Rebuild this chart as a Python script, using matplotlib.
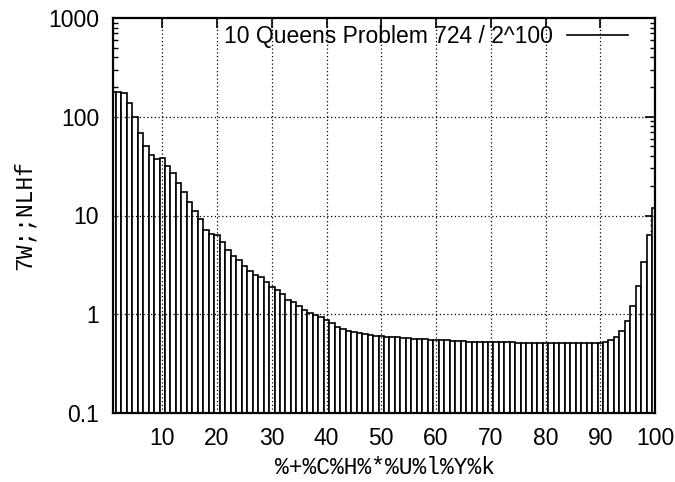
import matplotlib
matplotlib.use("Agg")
import matplotlib.pyplot as plt
from matplotlib.ticker import FixedLocator, LogLocator, NullFormatter
import numpy as np

# ---- data ----
positions = list(range(1, 101))
counts = [
    180, 180, 175, 137, 99, 69, 51, 41, 37, 38,
    32, 27, 21.5, 17.4, 13.8, 11.1, 9.2, 7.1, 6.5, 6.35,
    5.4, 4.5, 3.92, 3.54, 3.10, 2.76, 2.50, 2.37, 2.14, 1.87,
    1.76, 1.60, 1.41, 1.33, 1.21, 1.10, 1.02, 0.98, 0.93, 0.875,
    0.81, 0.75, 0.71, 0.68, 0.665, 0.65, 0.63, 0.616, 0.60, 0.60,
    0.593, 0.585, 0.585, 0.575, 0.571, 0.568, 0.56, 0.558, 0.555, 0.55,
    0.55, 0.548, 0.535, 0.53, 0.53, 0.528, 0.528, 0.525, 0.525, 0.52,
    0.52, 0.518, 0.518, 0.518, 0.517, 0.517, 0.516, 0.516, 0.516, 0.516,
    0.516, 0.516, 0.515, 0.51, 0.508, 0.508, 0.508, 0.508, 0.508, 0.508,
    0.528, 0.543, 0.593, 0.676, 0.86, 1.21, 1.93, 3.40, 6.35, 11.8,
]
xticks = [10, 20, 30, 40, 50, 60, 70, 80, 90, 100]
xtick_labels = ["10", "20", "30", "40", "50", "60", "70", "80", "90", "100"]
yticks = [0.1, 1, 10, 100, 1000]
ytick_labels = ["0.1", "1", "10", "100", "1000"]
legend_label = "10 Queens Problem 724 / 2^100"
xlabel = "%+%C%H%*%U%l%Y%k"
ylabel = "7W;;NLHf"

# ---- figure ----
fig = plt.figure(figsize=(6.75, 4.82), dpi=100)
ax = fig.add_axes([113 / 675, 1 - 413 / 482, (655 - 113) / 675, (413 - 18) / 482])
ax.set_yscale("log")

ax.bar(positions, counts, width=1.0, color="white", edgecolor="black",
       linewidth=1.2, zorder=2)

ax.set_xlim(1, 100)
ax.set_ylim(0.1, 1000)

sans = ["Liberation Sans", "DejaVu Sans"]
mono = ["Liberation Mono", "DejaVu Sans Mono"]

ax.xaxis.set_major_locator(FixedLocator(xticks))
ax.set_xticklabels(xtick_labels, family=sans, fontsize=16.5)
ax.yaxis.set_major_locator(FixedLocator(yticks))
ax.set_yticklabels(ytick_labels, family=sans, fontsize=16.5)
ax.yaxis.set_minor_locator(LogLocator(base=10, subs=np.arange(2, 10)))
ax.yaxis.set_minor_formatter(NullFormatter())

ax.tick_params(which="major", direction="in", length=7, width=1.2,
               top=True, right=True, pad=10, colors="black")
ax.tick_params(which="minor", direction="in", length=3.5, width=1.0,
               top=False, right=True)

# grid (dotted), excluding the frame edges
for xv in xticks[:-1]:
    ax.axvline(xv, color="black", linestyle=(0, (1, 2)), linewidth=0.9, zorder=3)
for yv in yticks[1:-1]:
    ax.axhline(yv, color="black", linestyle=(0, (1, 2)), linewidth=0.9, zorder=3)

for sp in ax.spines.values():
    sp.set_linewidth(1.6)
    sp.set_zorder(4)

# legend-like key (line sample on the right)
key_line, = ax.plot([], [], color="black", linewidth=1.2, label=legend_label)
leg = fig.legend(handles=[key_line], loc="center right",
                 bbox_to_anchor=(628 / 675, 1 - 37 / 482),
                 bbox_transform=fig.transFigure, frameon=False,
                 markerfirst=False, handlelength=2.65, handletextpad=0.65,
                 borderpad=0, borderaxespad=0,
                 prop={"family": sans, "size": 16.5})

fig.text(385 / 675, 1 - 468 / 482, xlabel, family=mono, fontsize=16.5,
         ha="center", va="center")
fig.text(24 / 675, 1 - 215 / 482, ylabel, family=mono, fontsize=16.5,
         ha="center", va="center", rotation=90)

fig.savefig("out.png", dpi=100)
